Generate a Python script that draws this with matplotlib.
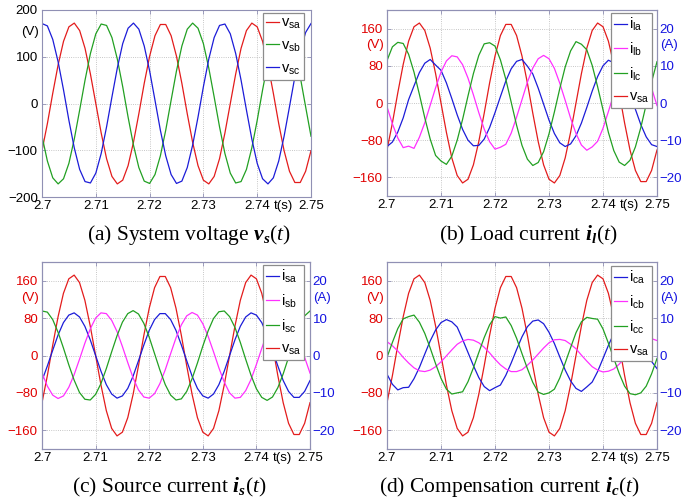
import matplotlib
matplotlib.use("Agg")
import matplotlib.pyplot as plt
import matplotlib.transforms as mtransforms
import numpy as np

plt.rcParams['font.family'] = 'Liberation Sans'
plt.rcParams['mathtext.fontset'] = 'custom'
plt.rcParams['mathtext.rm'] = 'Liberation Serif'
plt.rcParams['mathtext.it'] = 'Liberation Serif:italic'
plt.rcParams['mathtext.bf'] = 'Liberation Serif:bold'
plt.rcParams['mathtext.bfit'] = 'Liberation Serif:italic:bold'

# time axis, 1 ms samples between 2.70 s and 2.75 s
t = np.linspace(2.70, 2.75, 51)

# system voltages (V)
v_sa = [-101, -43, 22, 83, 133, 164, 172, 156, 118, 63, 0, -63, -118, -156, -172, -164, -133,
        -83, -22, 43, 101, 145, 169, 169, 145, 101, 43, -22, -83, -133, -164, -172, -156, -118,
        -63, 0, 63, 118, 156, 172, 164, 133, 83, 22, -43, -101, -145, -169, -169, -145, -101]
v_sb = [-70, -123, -159, -172, -161, -128, -76, -14, 50, 107, 149, 170, 167, 141, 95, 36, -29,
        -89, -137, -166, -171, -152, -112, -57, 7, 70, 123, 159, 172, 161, 128, 76, 14, -50,
        -107, -149, -170, -167, -141, -95, -36, 29, 89, 137, 166, 171, 152, 112, 57, -7, -70]
v_sc = [171, 166, 137, 89, 29, -36, -95, -141, -167, -170, -149, -107, -50, 14, 76, 128, 161,
        172, 159, 123, 70, 7, -57, -112, -152, -171, -166, -137, -89, -29, 36, 95, 141, 167,
        170, 149, 107, 50, -14, -76, -128, -161, -172, -159, -123, -70, -7, 57, 112, 152, 171]

# load currents (A)
i_la = [-11.7, -10.5, -7.8, -4.0, 0.9, 4.6, 8.2, 10.7, 11.7, 10.2, 8.8, 5.4, 1.2, -3.2, -7.1,
        -10.0, -11.5, -11.4, -9.7, -6.6, -2.6, 1.7, 5.9, 9.2, 11.2, 11.7, 9.9, 7.8, 4.0, -0.3,
        -4.6, -8.2, -10.7, -11.7, -11.0, -8.8, -5.4, -1.2, 3.2, 7.1, 10.0, 11.5, 10.8, 9.7, 6.6,
        2.6, -1.7, -5.8, -9.1, -11.2, -11.7]
i_lb = [-1.0, -5.6, -9.4, -12.0, -11.6, -12.2, -9.2, -5.3, -0.6, 4.1, 8.3, 11.3, 12.7, 12.4,
        10.3, 6.7, 2.2, -2.6, -7.0, -10.4, -12.4, -11.9, -11.1, -8.1, -3.8, 0.9, 5.6, 9.4, 11.9,
        12.8, 11.9, 9.3, 5.3, 0.7, -4.1, -8.2, -11.3, -12.7, -11.8, -10.3, -6.8, -2.3, 2.4, 6.9,
        10.4, 12.4, 12.7, 11.2, 8.1, 4.0, -0.7]
i_lc = [11.4, 15.1, 16.3, 16.0, 13.1, 8.3, 2.3, -4.0, -9.7, -14.1, -15.6, -16.5, -14.3, -10.0,
        -4.4, 1.9, 7.9, 12.8, 15.9, 16.2, 15.3, 11.6, 6.4, 0.2, -6.0, -11.4, -15.1, -16.8, -16.0,
        -13.1, -8.3, -2.4, 3.9, 9.7, 14.0, 16.5, 15.8, 14.3, 10.1, 4.4, -1.8, -7.9, -12.8, -15.9,
        -16.8, -15.4, -11.8, -6.6, -0.4, 5.7, 11.1]

# source currents (A)
i_sa = [-6.7, -2.8, 1.4, 5.5, 8.8, 10.8, 11.4, 10.3, 7.8, 4.2, 0.0, -4.2, -7.8, -10.3, -11.4,
        -10.8, -8.8, -5.5, -1.4, 2.8, 6.7, 9.6, 11.2, 11.2, 9.6, 6.7, 2.8, -1.4, -5.5, -8.8,
        -10.8, -11.4, -10.3, -7.8, -4.2, 0.0, 4.2, 7.8, 10.3, 11.4, 10.8, 8.8, 5.5, 1.4, -2.8,
        -6.7, -9.6, -11.2, -11.2, -9.6, -6.7]
i_sb = [-4.7, -8.2, -10.6, -11.5, -10.8, -8.5, -5.1, -1.0, 3.3, 7.1, 10.0, 11.4, 11.2, 9.4, 6.4,
        2.4, -1.9, -6.0, -9.2, -11.1, -11.4, -10.2, -7.5, -3.8, 0.5, 4.7, 8.2, 10.6, 11.5, 10.8,
        8.5, 5.1, 1.0, -3.3, -7.1, -10.0, -11.4, -11.2, -9.4, -6.4, -2.4, 1.9, 6.0, 9.2, 11.1,
        11.4, 10.2, 7.5, 3.8, -0.5, -4.7]
i_sc = [11.9, 11.6, 9.6, 6.2, 2.0, -2.5, -6.6, -9.9, -11.7, -11.9, -10.4, -7.5, -3.5, 1.0, 5.3,
        8.9, 11.2, 12.0, 11.1, 8.6, 4.9, 0.5, -3.9, -7.8, -10.6, -11.9, -11.6, -9.6, -6.2, -2.0,
        2.5, 6.6, 9.9, 11.7, 11.9, 10.4, 7.5, 3.5, -1.0, -5.3, -8.9, -11.2, -12.0, -11.1, -8.6,
        -4.9, -0.5, 3.9, 7.8, 10.6, 11.9]

# compensation currents (A)
i_ca = [-5.0, -7.7, -9.2, -8.6, -8.5, -6.2, -3.2, 0.4, 3.9, 6.8, 8.8, 9.6, 9.0, 7.6, 4.3, 0.8,
        -2.7, -5.9, -8.3, -9.4, -8.6, -7.9, -5.3, -2.0, 1.6, 5.0, 7.7, 9.2, 9.5, 8.5, 6.2, 3.2,
        -0.4, -3.9, -6.8, -8.8, -9.6, -8.4, -7.1, -4.3, -0.8, 2.7, 5.9, 8.3, 9.4, 9.3, 7.9, 5.4,
        2.1, -1.6, -3.5]
i_cb = [3.7, 2.6, 1.2, -0.5, -2.0, -3.3, -4.1, -4.3, -3.9, -3.0, -1.7, -0.1, 1.5, 3.0, 3.9, 4.3,
        4.1, 3.4, 2.2, 0.7, -1.0, -2.5, -3.6, -4.3, -4.3, -3.8, -2.6, -1.2, 0.4, 2.0, 3.4, 4.2,
        4.3, 4.0, 3.0, 1.8, 0.1, -1.5, -3.0, -3.9, -4.4, -4.2, -3.6, -2.3, -0.7, 1.0, 2.5, 3.7,
        4.3, 4.5, 4.0]
i_cc = [-0.5, 3.5, 7.2, 9.8, 10.4, 10.8, 8.9, 5.9, 2.0, -2.2, -6.1, -9.0, -10.3, -10.0, -9.7,
        -7.0, -3.3, 0.8, 4.8, 8.2, 10.4, 10.0, 10.3, 8.0, 4.6, 0.5, -3.5, -7.2, -9.8, -10.4,
        -10.0, -9.0, -6.0, -2.0, 2.1, 6.1, 9.0, 10.2, 9.9, 9.7, 7.1, 3.3, -0.8, -4.8, -8.2,
        -10.2, -10.5, -10.0, -8.2, -4.9, -0.8]

time_ticks = [2.70, 2.71, 2.72, 2.73, 2.74, 2.75]
time_labels = ['2.7', '2.71', '2.72', '2.73', '2.74', '2.75']
volt_ticks_a = [-200, -100, 0, 100, 200]
volt_ticks = [-160, -80, 0, 80, 160]
amp_ticks = [-20, -10, 0, 10, 20]

RED = '#e31c1c'
GREEN = '#22a022'
BLUE = '#1c1cd8'
MAGENTA = '#ff30ff'
TXT_RED = '#e00000'
TXT_BLUE = '#1414e0'
SPINE = '#9090b4'
W, H = 699, 504


def rect(left, top, right, bottom):
    return [left / W, 1 - bottom / H, (right - left) / W, (bottom - top) / H]


def style(ax, right=False):
    for s in ax.spines.values():
        s.set_color(SPINE)
        s.set_linewidth(0.8)
    ax.tick_params(direction='in', length=3, width=0.6, color=SPINE,
                   labelsize=9.5, pad=2)
    if not right:
        ax.set_xlim(2.70, 2.75)
        ax.set_xticks(time_ticks)
        ax.set_xticklabels(time_labels)
        ax.tick_params(axis='y', pad=3)
        ax.grid(True, linestyle=':', color='#b4b4b4', linewidth=0.6)
        ax.annotate('t(s)', xy=(2.7449, 0), xycoords=('data', 'axes fraction'),
                    xytext=(0, -2), textcoords='offset points',
                    ha='center', va='top', fontsize=9.5)


def legend(ax, handles, labels, anchor):
    leg = ax.legend(handles, labels, loc='upper right', bbox_to_anchor=anchor,
                    borderaxespad=0, fontsize=10.5, handlelength=0.9,
                    handletextpad=0.12, borderpad=0.2, labelspacing=0.5,
                    fancybox=False, framealpha=1, edgecolor='#8c8c8c')
    leg.get_frame().set_linewidth(0.9)
    return leg


def lab(name, sub):
    return r'$\mathregular{' + name + '_{' + sub + '}}$'


fig = plt.figure(figsize=(6.99, 5.04), dpi=100)

# (a) system voltage
ax = fig.add_axes(rect(42, 10, 311, 197))
la, = ax.plot(t, v_sa, color=RED, lw=0.9)
lb, = ax.plot(t, v_sb, color=GREEN, lw=0.9)
lc, = ax.plot(t, v_sc, color=BLUE, lw=0.9)
ax.set_ylim(-200, 200)
ax.set_yticks(volt_ticks_a)
style(ax)
ax.tick_params(top=True, right=True)
ax.text(-0.012, 153, '(V)', transform=mtransforms.blended_transform_factory(ax.transAxes, ax.transData),
        ha='right', va='center', fontsize=9.5)
legend(ax, [la, lb, lc], [lab('v', 'sa'), lab('v', 'sb'), lab('v', 'sc')], (0.974, 0.984))
fig.text(189 / W, 1 - 235 / H, r'(a) System voltage $\mathbfit{v}_{\mathbfit{s}}(\mathit{t})$',
         family='Liberation Serif', fontsize=15.5, ha='center', va='center')


def current_panel(box, currents, names, caption, cap_x, cap_y, anchor):
    ax = fig.add_axes(rect(*box))
    lv, = ax.plot(t, v_sa, color=RED, lw=0.9)
    ax.set_ylim(-200, 200)
    ax.set_yticks(volt_ticks)
    style(ax)
    ax.tick_params(top=True)
    ax.tick_params(axis='y', labelcolor=TXT_RED)
    ax2 = ax.twinx()
    hs = []
    for cur, col in zip(currents, [BLUE, MAGENTA, GREEN]):
        h, = ax2.plot(t, cur, color=col, lw=0.9)
        hs.append(h)
    ax2.set_ylim(-25, 25)
    ax2.set_yticks(amp_ticks)
    style(ax2, right=True)
    ax2.tick_params(axis='y', labelcolor=TXT_BLUE, pad=2)
    ax.text(-0.012, 124, '(V)', transform=mtransforms.blended_transform_factory(ax.transAxes, ax.transData),
            ha='right', va='center', fontsize=9.5, color=TXT_RED)
    ax2.text(1.012, 15.5, '(A)', transform=mtransforms.blended_transform_factory(ax2.transAxes, ax2.transData),
             ha='left', va='center', fontsize=9.5, color=TXT_BLUE)
    legend(ax2, hs + [lv], names + [lab('v', 'sa')], anchor)
    fig.text(cap_x / W, 1 - cap_y / H, caption, family='Liberation Serif',
             fontsize=15.5, ha='center', va='center')


current_panel((387, 10, 657, 196), [i_la, i_lb, i_lc],
              [lab('i', 'la'), lab('i', 'lb'), lab('i', 'lc')],
              r'(b) Load current $\mathbfit{i}_{\mathbfit{l}}(\mathit{t})$', 528, 235,
              (0.981, 0.984))
current_panel((42, 262, 310, 449), [i_sa, i_sb, i_sc],
              [lab('i', 'sa'), lab('i', 'sb'), lab('i', 'sc')],
              r'(c) Source current $\mathbfit{i}_{\mathbfit{s}}(\mathit{t})$', 169, 487,
              (0.978, 0.984))
current_panel((387, 262, 657, 449), [i_ca, i_cb, i_cc],
              [lab('i', 'ca'), lab('i', 'cb'), lab('i', 'cc')],
              r'(d) Compensation current $\mathbfit{i}_{\mathbfit{c}}(\mathit{t})$', 509, 487,
              (0.981, 0.979))

fig.savefig('out.png', dpi=100)
